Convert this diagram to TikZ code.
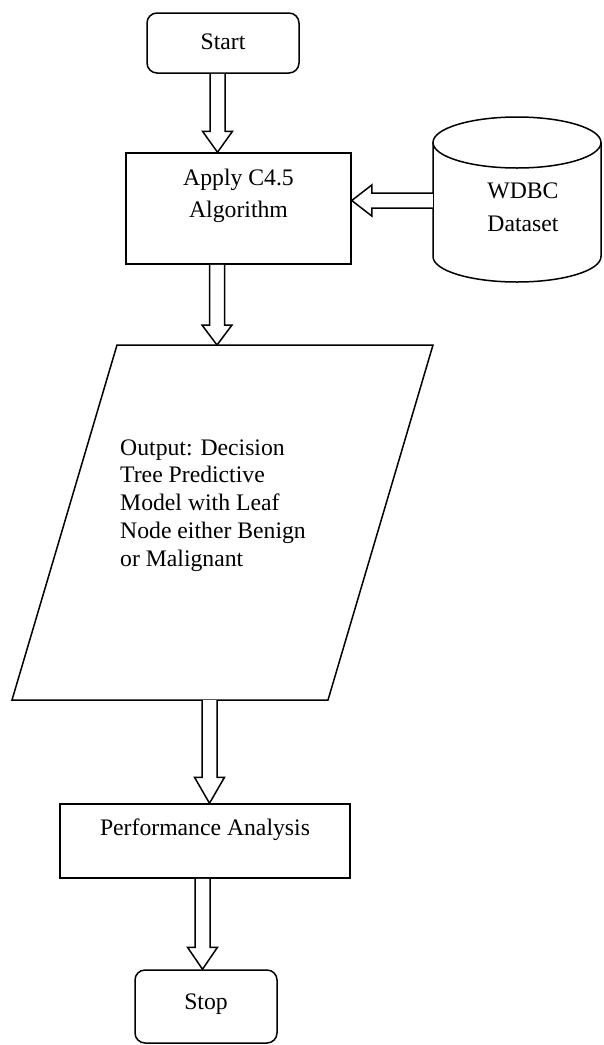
\documentclass[tikz,border=0pt]{standalone}
\usepackage{fontspec}
\setmainfont{Liberation Serif}
\usetikzlibrary{calc}
\tikzset{
  lw/.style={line width=1.5pt},
  boxnode/.style={draw, lw, inner sep=0pt, fill=white},
  roundbox/.style={boxnode, rounded corners=10pt},
  txt/.style={inner sep=0pt, anchor=base, font=\fontsize{23.7}{28}\selectfont},
  txtl/.style={txt, anchor=base west},
  blockarr/.style={draw, lw, fill=white, line join=miter},
}
\newcommand\hollowdown[4]{%
  \draw[blockarr] let \p1=(#1), \p2=(#2) in
    (#3pt-7.5pt,\y1) -- (#3pt-7.5pt,\y2+#4pt) -- (#3pt-15pt,\y2+#4pt) -- (#3pt,\y2)
    -- (#3pt+15pt,\y2+#4pt) -- (#3pt+7.5pt,\y2+#4pt) -- (#3pt+7.5pt,\y1);}
\begin{document}
\begin{tikzpicture}[x=1pt,y=1pt]
\useasboundingbox (0,0) rectangle (603,-1045);
% Start
\node[roundbox, minimum width=152pt, minimum height=60pt] (start) at (223,-43) {};
\node[txt] (starttxt) at (223,-49) {Start};
% Apply box
\node[boxnode, minimum width=225pt, minimum height=111pt] (apply) at (238.5,-208.5) {};
\node[txt] (applyA) at (238.5,-185) {Apply C4.5};
\node[txt] (applyB) at (238.5,-217) {Algorithm};
% Cylinder
\node[inner sep=0pt, minimum width=168pt, minimum height=165pt] (wdbc) at (517,-199.5) {};
\draw[lw] (433,-142.5) -- (433,-256.5) arc[start angle=180, end angle=360, x radius=84, y radius=25.5]
  -- (601,-142.5);
\draw[lw] (517,-142.5) ellipse[x radius=84, y radius=25.5];
\node[txt] (wdbcA) at (523,-198) {WDBC};
\node[txt] (wdbcB) at (523,-231) {Dataset};
% Parallelogram
\coordinate (ptl) at (117,-345);
\coordinate (ptr) at (433,-345);
\coordinate (pbr) at (328,-700);
\coordinate (pbl) at (12,-700);
\draw[lw, line join=miter] (ptl) -- (ptr) -- (pbr) -- (pbl) -- cycle;
\node[txtl] (o1) at (120,-455) {Output: Decision};
\node[txtl] (o2) at (120,-482.5) {Tree Predictive};
\node[txtl] (o3) at (120,-510) {Model with Leaf};
\node[txtl] (o4) at (120,-538) {Node either Benign};
\node[txtl] (o5) at (120,-566) {or Malignant};
% Performance
\node[boxnode, minimum width=290pt, minimum height=74pt] (perf) at (205,-841) {};
\node[txt] (perftxt) at (205,-835) {Performance Analysis};
% Stop
\node[roundbox, minimum width=142pt, minimum height=73pt] (stop) at (206,-1006.5) {};
\node[txt] (stoptxt) at (206,-1009) {Stop};
% Block arrows
\hollowdown{start.south}{apply.north}{217.5}{21}
\hollowdown{apply.south}{ptl}{217}{20}
\hollowdown{pbl}{perf.north}{209.5}{26}
\hollowdown{perf.south}{stop.north}{202.5}{22}
\draw[blockarr] let \p1=(wdbc.west), \p2=(apply.east) in
  (\x1,-193) -- (\x2+20pt,-193) -- (\x2+20pt,-185) -- (\x2,-200.5) -- (\x2+20pt,-216)
  -- (\x2+20pt,-208) -- (\x1,-208);
\end{tikzpicture}
\end{document}
